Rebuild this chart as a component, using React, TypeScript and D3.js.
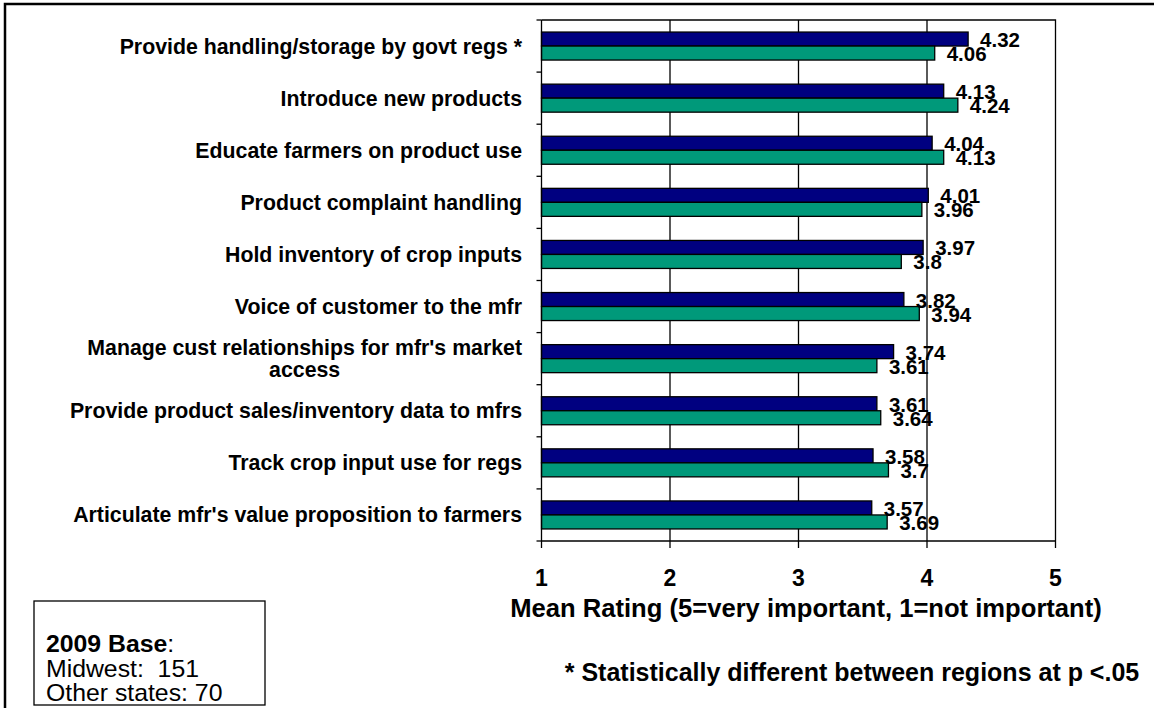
import React, { useEffect, useRef } from 'react';
import * as d3 from 'd3';

// chart data
const categories = [
  'Provide handling/storage by govt regs *',
  'Introduce new products',
  'Educate farmers on product use',
  'Product complaint handling',
  'Hold inventory of crop inputs',
  'Voice of customer to the mfr',
  "Manage cust relationships for mfr's market\naccess",
  'Provide product sales/inventory data to mfrs',
  'Track crop input use for regs',
  "Articulate mfr's value proposition to farmers",
];
const midwest = [4.32, 4.13, 4.04, 4.01, 3.97, 3.82, 3.74, 3.61, 3.58, 3.57];
const otherStates = [4.06, 4.24, 4.13, 3.96, 3.8, 3.94, 3.61, 3.64, 3.7, 3.69];
const seriesNames = ['Midwest', 'Other states'];
const seriesColors = ['#000080', '#00997a'];
const xTicks = [1, 2, 3, 4, 5];
const xTitle = 'Mean Rating (5=very important, 1=not important)';
const footnote = '* Statistically different between regions at p <.05';
const baseLines = ['Midwest:  151', 'Other states: 70'];

const FONT = "'Liberation Sans', Arial, sans-serif";

export default function App() {
  const svgRef = useRef<SVGSVGElement>(null);

  useEffect(() => {
    if (!svgRef.current) return;
    const svg = d3.select(svgRef.current);
    svg.selectAll('*').remove();

    const W = 1154, H = 708;
    const plot = { left: 541.5, right: 1055.5, top: 20, bottom: 541 };

    svg.attr('width', W).attr('height', H).style('font-family', FONT);

    // outer frame (only top and left show)
    svg.append('rect')
      .attr('x', 5).attr('y', 4).attr('width', W + 20).attr('height', H + 20)
      .attr('fill', 'none').attr('stroke', '#000').attr('stroke-width', 2.5);

    const x = d3.scaleLinear().domain([1, 5]).range([plot.left, plot.right]);
    const y0 = d3.scaleBand<string>().domain(categories).range([plot.top, plot.bottom]);
    const y1 = d3.scaleBand<string>().domain(seriesNames)
      .range([0, y0.bandwidth()]).paddingOuter(0.86);

    const g = svg.append('g');

    // gridlines
    g.selectAll('.grid')
      .data(xTicks.slice(1, -1))
      .enter()
      .append('line')
      .attr('x1', d => x(d)).attr('x2', d => x(d))
      .attr('y1', plot.top).attr('y2', plot.bottom)
      .attr('stroke', '#000').attr('stroke-width', 1.3);

    // plot frame top + right
    g.append('path')
      .attr('d', `M${plot.left},${plot.top}H${plot.right}V${plot.bottom}`)
      .attr('fill', 'none').attr('stroke', '#000').attr('stroke-width', 1.3);

    // bars
    const seriesData = [midwest, otherStates];
    seriesData.forEach((vals, si) => {
      g.selectAll(`.bar${si}`)
        .data(vals)
        .enter()
        .append('rect')
        .attr('x', x(1))
        .attr('y', (d, i) => (y0(categories[i]) || 0) + (y1(seriesNames[si]) || 0))
        .attr('width', d => x(d) - x(1))
        .attr('height', y1.bandwidth())
        .attr('fill', seriesColors[si])
        .attr('stroke', '#000').attr('stroke-width', 1.3);
    });

    // value labels
    seriesData.forEach((vals, si) => {
      g.selectAll(`.val${si}`)
        .data(vals)
        .enter()
        .append('text')
        .attr('x', d => x(d) + 12)
        .attr('y', (d, i) => (y0(categories[i]) || 0) + (y1(seriesNames[si]) || 0) + y1.bandwidth() + 1)
        .attr('font-size', 20.5)
        .attr('font-weight', 'bold')
        .text(d => String(d));
    });

    // left axis
    g.append('line')
      .attr('x1', plot.left).attr('x2', plot.left)
      .attr('y1', plot.top).attr('y2', plot.bottom)
      .attr('stroke', '#000').attr('stroke-width', 1.3);
    const bounds = categories.map(c => y0(c) || 0).concat([plot.bottom]);
    g.selectAll('.ytick')
      .data(bounds)
      .enter()
      .append('line')
      .attr('x1', plot.left - 5).attr('x2', plot.left)
      .attr('y1', d => d).attr('y2', d => d)
      .attr('stroke', '#000').attr('stroke-width', 1.3);

    // category labels
    categories.forEach(c => {
      const lines = c.split('\n');
      const cy = (y0(c) || 0) + y0.bandwidth() / 2;
      const lh = 22;
      const first = cy - ((lines.length - 1) * lh) / 2;
      const t1 = g.append('text')
        .attr('x', 522).attr('y', first).attr('dy', '0.35em')
        .attr('text-anchor', 'end')
        .attr('font-size', 21.3).attr('font-weight', 'bold')
        .text(lines[0]);
      const w1 = (t1.node() as SVGTextElement).getComputedTextLength();
      lines.slice(1).forEach((ln, k) => {
        g.append('text')
          .attr('x', 522 - w1 / 2).attr('y', first + (k + 1) * lh).attr('dy', '0.35em')
          .attr('text-anchor', 'middle')
          .attr('font-size', 21.3).attr('font-weight', 'bold')
          .text(ln);
      });
    });

    // bottom axis
    g.append('line')
      .attr('x1', plot.left).attr('x2', plot.right)
      .attr('y1', plot.bottom).attr('y2', plot.bottom)
      .attr('stroke', '#000').attr('stroke-width', 1.3);
    g.selectAll('.xtick')
      .data(xTicks)
      .enter()
      .append('line')
      .attr('x1', d => x(d)).attr('x2', d => x(d))
      .attr('y1', plot.bottom).attr('y2', plot.bottom + 7)
      .attr('stroke', '#000').attr('stroke-width', 1.3);
    g.selectAll('.xlabel')
      .data(xTicks)
      .enter()
      .append('text')
      .attr('x', d => x(d)).attr('y', 586)
      .attr('text-anchor', 'middle')
      .attr('font-size', 23).attr('font-weight', 'bold')
      .text(d => String(d));

    // axis title
    g.append('text')
      .attr('x', 806).attr('y', 617)
      .attr('text-anchor', 'middle')
      .attr('font-size', 25.6).attr('font-weight', 'bold')
      .text(xTitle);

    // footnote
    g.append('text')
      .attr('x', 852).attr('y', 681)
      .attr('text-anchor', 'middle')
      .attr('font-size', 25).attr('font-weight', 'bold')
      .text(footnote);

    // sample base box
    g.append('rect')
      .attr('x', 34).attr('y', 601).attr('width', 231).attr('height', 104)
      .attr('fill', '#fff').attr('stroke', '#000').attr('stroke-width', 1.3);
    const bt = g.append('text')
      .attr('x', 46).attr('y', 652)
      .attr('font-size', 24.8);
    bt.append('tspan').attr('font-weight', 'bold').text('2009 Base');
    bt.append('tspan').text(':');
    baseLines.forEach((ln, i) => {
      g.append('text')
        .attr('x', 46).attr('y', 676.5 + i * 24.5)
        .attr('font-size', 24.8)
        .style('white-space', 'pre')
        .text(ln);
    });
  }, []);

  return (
    <div style={{ position: 'absolute', left: 0, top: 0 }}>
      <svg ref={svgRef} style={{ display: 'block' }}></svg>
    </div>
  );
}
